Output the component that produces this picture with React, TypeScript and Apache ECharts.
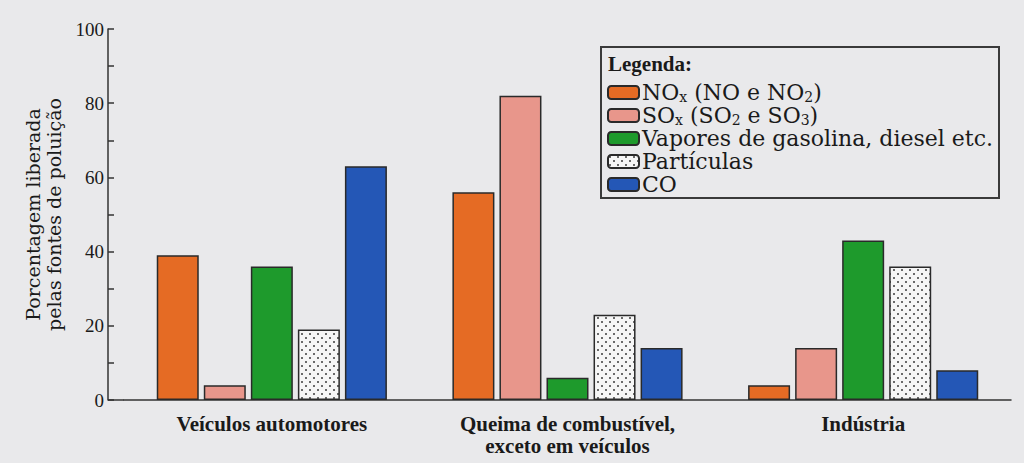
import React, { useEffect, useRef } from "react";
import * as echarts from "echarts";

const categories = [
  "Veículos automotores",
  "Queima de combustível,\nexceto em veículos",
  "Indústria",
];
const seriesNames = ["NOx", "SOx", "Vapores", "Partículas", "CO"];
const noxValues = [39, 56, 4];
const soxValues = [4, 82, 14];
const vaporValues = [36, 6, 43];
const particleValues = [19, 23, 36];
const coValues = [63, 14, 8];
const yTicks = { min: 0, max: 100, interval: 20 };

const legendLabels: Record<string, string> = {
  NOx: "NO{sub|x} (NO e NO{sub|2})",
  SOx: "SO{sub|x} (SO{sub|2} e SO{sub|3})",
  Vapores: "Vapores de gasolina, diesel etc.",
  Partículas: "Partículas",
  CO: "CO",
};

function makeDots() {
  const c = document.createElement("canvas");
  c.width = 8;
  c.height = 8;
  const ctx = c.getContext("2d")!;
  ctx.fillStyle = "#f6f6f6";
  ctx.fillRect(0, 0, 8, 8);
  ctx.fillStyle = "#6a6a6a";
  ctx.fillRect(1, 1, 2, 2);
  ctx.fillRect(5, 5, 2, 2);
  return c;
}

export default function App() {
  const ref = useRef<HTMLDivElement>(null);
  useEffect(() => {
    if (!ref.current) return;
    const chart = echarts.init(ref.current, undefined, { renderer: "svg" });
    const dots = makeDots();
    const border = { borderColor: "#2a2a2a", borderWidth: 1.5 };
    const values = [noxValues, soxValues, vaporValues, particleValues, coValues];
    const colors: any[] = [
      "#e56b24",
      "#e8968b",
      "#1e9a2c",
      { image: dots, repeat: "repeat" },
      "#2457b6",
    ];
    chart.setOption({
      animation: false,
      backgroundColor: "#e9e9eb",
      title: {
        text: "Legenda:",
        left: 608,
        top: 53,
        padding: 0,
        textStyle: {
          fontFamily: "Liberation Serif",
          fontWeight: "bold",
          fontSize: 21,
          color: "#1a1a1a",
        },
      },
      graphic: [
        {
          type: "rect",
          shape: { x: 601, y: 47, width: 398, height: 151 },
          style: { fill: "none", stroke: "#3a3a3a", lineWidth: 2 },
          z: 10,
        },
        {
          type: "line",
          shape: { x1: 108, y1: 400, x2: 124, y2: 400 },
          style: { stroke: "#333", lineWidth: 1.5 },
        },
      ],
      legend: {
        orient: "vertical",
        left: 607,
        top: 81,
        padding: 0,
        itemWidth: 31,
        itemHeight: 13,
        itemGap: 0,
        data: seriesNames,
        formatter: (n: string) => legendLabels[n],
        textStyle: {
          fontFamily: "DejaVu Serif",
          fontSize: 22,
          lineHeight: 23,
          color: "#1a1a1a",
          padding: [0, 0, 0, -2],
          rich: {
            sub: {
              fontFamily: "DejaVu Serif",
              fontSize: 14,
              lineHeight: 10,
              verticalAlign: "bottom",
              color: "#1a1a1a",
            },
          },
        },
      },
      grid: { left: 124, right: 13, top: 29, bottom: 63 },
      xAxis: {
        type: "category",
        data: categories,
        axisLine: { lineStyle: { color: "#333", width: 1.5 } },
        axisTick: { show: false },
        axisLabel: {
          margin: 13,
          fontFamily: "Liberation Serif",
          fontWeight: "bold",
          fontSize: 21,
          lineHeight: 22,
          color: "#1a1a1a",
        },
      },
      yAxis: {
        type: "value",
        min: yTicks.min,
        max: yTicks.max,
        interval: yTicks.interval,
        offset: 16,
        name: "Porcentagem liberada\npelas fontes de poluição",
        nameLocation: "middle",
        nameGap: 44,
        nameTextStyle: {
          fontFamily: "DejaVu Serif",
          fontSize: 19,
          lineHeight: 21,
          color: "#1a1a1a",
        },
        axisLine: { show: true, lineStyle: { color: "#333", width: 1.5 } },
        axisTick: { show: true, inside: true, length: 6, lineStyle: { color: "#333", width: 1.5 } },
        minorTick: { show: true, splitNumber: 2, length: 6, lineStyle: { color: "#333", width: 1.5 } },
        splitLine: { show: false },
        axisLabel: {
          margin: 4,
          fontFamily: "Liberation Serif",
          fontSize: 19,
          color: "#1a1a1a",
        },
      },
      series: seriesNames.map((name, i) => ({
        name,
        type: "bar",
        data: values[i],
        barWidth: 42,
        barGap: "12%",
        itemStyle: { color: colors[i], ...border },
      })),
    });
    return () => chart.dispose();
  }, []);
  return (
    <div
      ref={ref}
      style={{ position: "fixed", left: 0, top: 0, width: 1024, height: 463 }}
    />
  );
}
